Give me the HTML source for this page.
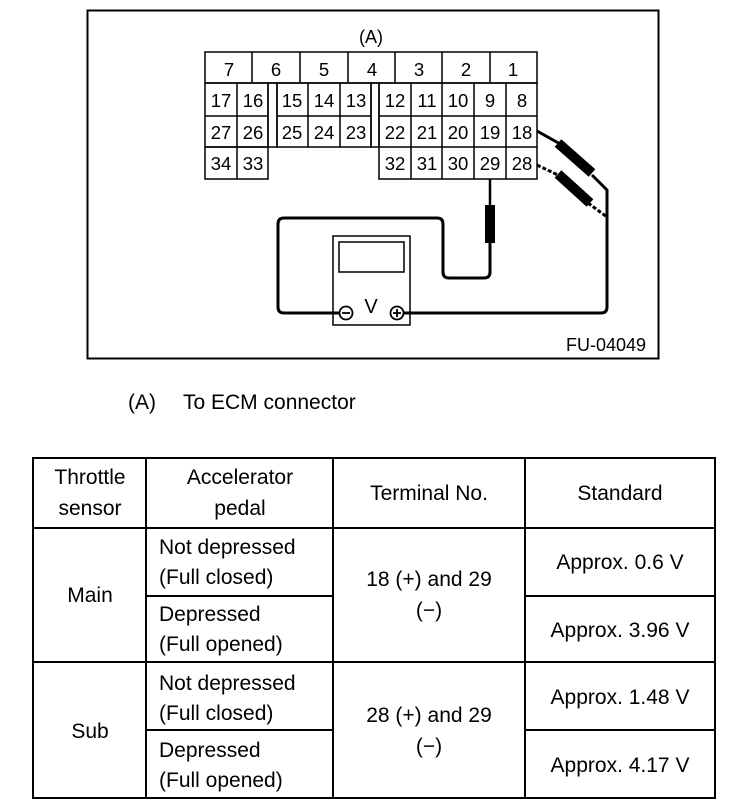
<!DOCTYPE html>
<html><head><meta charset="utf-8"><style>
html,body{margin:0;padding:0;background:#fff;}
svg{display:block;}
text{font-family:"Liberation Sans",Arial,sans-serif;fill:#000;}
</style></head><body>
<svg width="736" height="806" viewBox="0 0 736 806" xmlns="http://www.w3.org/2000/svg">
<rect x="87.5" y="10.5" width="571" height="348" fill="none" stroke="#000" stroke-width="2"/>
<text x="371" y="43" font-size="18" text-anchor="middle">(A)</text>
<g fill="none" stroke="#000" stroke-width="1.5">
<rect x="205" y="52" width="332" height="31"/>
<line x1="252" y1="52" x2="252" y2="83"/><line x1="300" y1="52" x2="300" y2="83"/>
<line x1="348" y1="52" x2="348" y2="83"/><line x1="395" y1="52" x2="395" y2="83"/>
<line x1="442" y1="52" x2="442" y2="83"/><line x1="490" y1="52" x2="490" y2="83"/>
<rect x="205" y="83" width="63" height="64"/><line x1="237" y1="83" x2="237" y2="179"/>
<line x1="205" y1="116" x2="268" y2="116"/>
<rect x="205" y="147" width="63" height="32"/>
<rect x="268" y="83" width="9" height="64"/>
<rect x="277" y="83" width="94" height="64"/><line x1="277" y1="116" x2="371" y2="116"/>
<line x1="308" y1="83" x2="308" y2="147"/><line x1="340" y1="83" x2="340" y2="147"/>
<rect x="371" y="83" width="8" height="64"/>
<rect x="379" y="83" width="158" height="96"/>
<line x1="379" y1="116" x2="537" y2="116"/><line x1="379" y1="147" x2="537" y2="147"/>
<line x1="411" y1="83" x2="411" y2="179"/><line x1="442" y1="83" x2="442" y2="179"/>
<line x1="474" y1="83" x2="474" y2="179"/><line x1="506" y1="83" x2="506" y2="179"/>
</g>
<g font-size="18.5" text-anchor="middle">
<text x="229" y="76">7</text><text x="276" y="76">6</text><text x="324" y="76">5</text><text x="372" y="76">4</text><text x="419" y="76">3</text><text x="466" y="76">2</text><text x="513" y="76">1</text>
<text x="221" y="107">17</text><text x="253" y="107">16</text><text x="292" y="107">15</text><text x="324" y="107">14</text><text x="356" y="107">13</text><text x="395" y="107">12</text><text x="427" y="107">11</text><text x="458" y="107">10</text><text x="490" y="107">9</text><text x="522" y="107">8</text>
<text x="221" y="139">27</text><text x="253" y="139">26</text><text x="292" y="139">25</text><text x="324" y="139">24</text><text x="356" y="139">23</text><text x="395" y="139">22</text><text x="427" y="139">21</text><text x="458" y="139">20</text><text x="490" y="139">19</text><text x="522" y="139">18</text>
<text x="221" y="170">34</text><text x="253" y="170">33</text><text x="395" y="170">32</text><text x="427" y="170">31</text><text x="458" y="170">30</text><text x="490" y="170">29</text><text x="522" y="170">28</text>
</g>
<rect x="333" y="236" width="77" height="89" fill="#fff" stroke="#000" stroke-width="1.5"/>
<rect x="339" y="242" width="65" height="30" fill="none" stroke="#000" stroke-width="1.5"/>
<text x="371" y="313" font-size="20" text-anchor="middle">V</text>
<circle cx="346" cy="313" r="6.5" fill="none" stroke="#000" stroke-width="1.8"/><line x1="342" y1="313" x2="350" y2="313" stroke="#000" stroke-width="1.8"/>
<circle cx="397" cy="313" r="6.5" fill="none" stroke="#000" stroke-width="1.8"/><line x1="393" y1="313" x2="401" y2="313" stroke="#000" stroke-width="1.8"/><line x1="397" y1="309" x2="397" y2="317" stroke="#000" stroke-width="1.8"/>
<g fill="none" stroke="#000" stroke-width="3" stroke-linejoin="round">
<path d="M340 313 H284 Q278 313 278 307 V224 Q278 218 284 218 H437 Q443 218 443 224 V272 Q443 278 449 278 H484 Q490 278 490 272 V243"/>
<path d="M403 313 H601 Q607 313 607 307 V190 L592 175"/>
</g>
<line x1="490" y1="179" x2="490" y2="207" stroke="#000" stroke-width="2.5"/>
<rect x="485" y="205" width="10" height="38" fill="#000"/>
<line x1="537" y1="131" x2="562" y2="145" stroke="#000" stroke-width="3"/>
<line x1="558" y1="143" x2="592" y2="173" stroke="#000" stroke-width="10"/>
<line x1="537" y1="165" x2="560" y2="176" stroke="#000" stroke-width="3" stroke-dasharray="4,2"/>
<line x1="558" y1="174" x2="590" y2="203" stroke="#000" stroke-width="10"/>
<line x1="588" y1="203" x2="607" y2="217" stroke="#000" stroke-width="3" stroke-dasharray="4,2"/>
<text x="646" y="351" font-size="18" text-anchor="end">FU-04049</text>
<text x="128" y="409" font-size="21">(A)</text>
<text x="183" y="409" font-size="21">To ECM connector</text>
<g fill="none" stroke="#000" stroke-width="2">
<rect x="33" y="458" width="682" height="340"/>
<line x1="146" y1="458" x2="146" y2="798"/><line x1="333" y1="458" x2="333" y2="798"/><line x1="525" y1="458" x2="525" y2="798"/>
<line x1="33" y1="528" x2="715" y2="528"/><line x1="33" y1="662" x2="715" y2="662"/>
<line x1="146" y1="596" x2="333" y2="596"/><line x1="525" y1="596" x2="715" y2="596"/>
<line x1="146" y1="730" x2="333" y2="730"/><line x1="525" y1="730" x2="715" y2="730"/>
</g>
<g font-size="21">
<text x="90" y="484" text-anchor="middle">Throttle</text><text x="90" y="515" text-anchor="middle">sensor</text>
<text x="240" y="484" text-anchor="middle">Accelerator</text><text x="240" y="515" text-anchor="middle">pedal</text>
<text x="429" y="500" text-anchor="middle">Terminal No.</text>
<text x="620" y="500" text-anchor="middle">Standard</text>
<text x="90" y="602" text-anchor="middle">Main</text>
<text x="90" y="738" text-anchor="middle">Sub</text>
<text x="159" y="554">Not depressed</text><text x="159" y="584">(Full closed)</text>
<text x="159" y="621">Depressed</text><text x="159" y="651">(Full opened)</text>
<text x="159" y="690">Not depressed</text><text x="159" y="720">(Full closed)</text>
<text x="159" y="757">Depressed</text><text x="159" y="787">(Full opened)</text>
<text x="429" y="586" text-anchor="middle">18 (+) and 29</text><text x="429" y="617" text-anchor="middle">(−)</text>
<text x="429" y="722" text-anchor="middle">28 (+) and 29</text><text x="429" y="753" text-anchor="middle">(−)</text>
<text x="620" y="569" text-anchor="middle">Approx. 0.6 V</text>
<text x="620" y="637" text-anchor="middle">Approx. 3.96 V</text>
<text x="620" y="704" text-anchor="middle">Approx. 1.48 V</text>
<text x="620" y="772" text-anchor="middle">Approx. 4.17 V</text>
</g>
</svg>
</body></html>
